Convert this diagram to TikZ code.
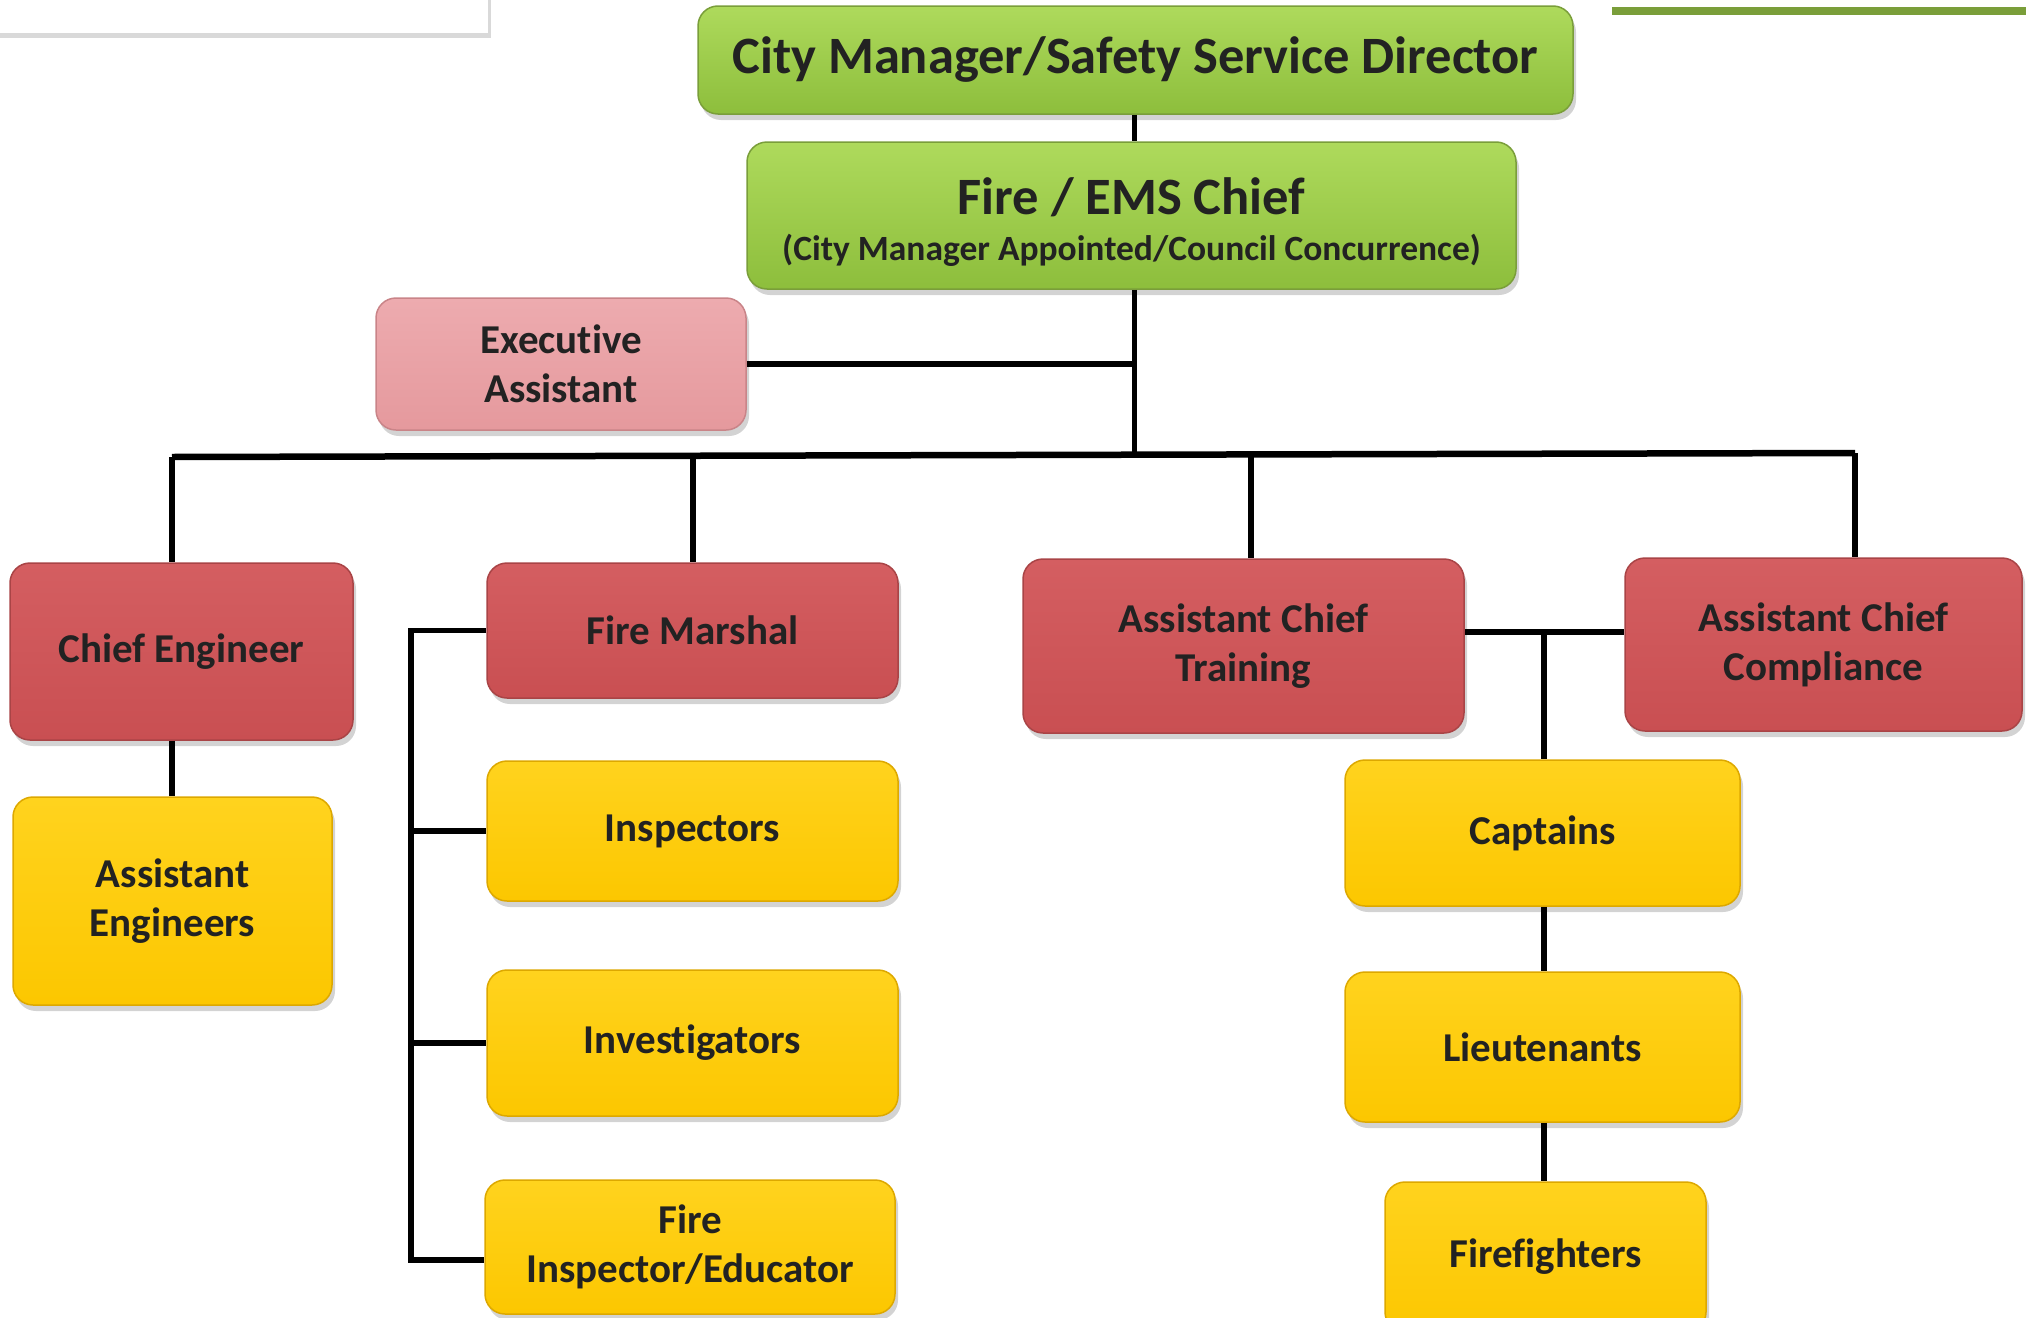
\documentclass[tikz,border=0pt]{standalone}
\usepackage{fontspec}
\setmainfont{Carlito}[Ligatures={NoCommon,NoContextual,NoRare}, Contextuals={NoAlternate}]
\usetikzlibrary{shadows}
\newcommand{\nolig}{\kern0pt{}}
\definecolor{txt}{HTML}{222222}
\definecolor{gTop}{HTML}{AEDA5C}
\definecolor{gBot}{HTML}{8DBE3C}
\definecolor{gLine}{HTML}{7A9E3A}
\definecolor{rTop}{HTML}{D45E61}
\definecolor{rBot}{HTML}{C94F52}
\definecolor{rLine}{HTML}{A94446}
\definecolor{pTop}{HTML}{EDABAF}
\definecolor{pBot}{HTML}{E5999D}
\definecolor{pLine}{HTML}{C98488}
\definecolor{yTop}{HTML}{FFD31E}
\definecolor{yBot}{HTML}{FCC700}
\definecolor{yLine}{HTML}{DDA800}
\definecolor{barGreen}{HTML}{7A9E3A}
\tikzset{
  box/.style={draw, line width=1.5pt, rounded corners=20pt, inner sep=0pt, align=center,
    text=txt, font=\fontsize{41}{49}\selectfont\bfseries,
    drop shadow={shadow xshift=3pt, shadow yshift=-6pt, opacity=.35}},
  gbox/.style={box, top color=gTop, bottom color=gBot, draw=gLine},
  rbox/.style={box, top color=rTop, bottom color=rBot, draw=rLine},
  pbox/.style={box, top color=pTop, bottom color=pBot, draw=pLine},
  ybox/.style={box, top color=yTop, bottom color=yBot, draw=yLine},
  conn/.style={line width=5.5pt, black},
}
\begin{document}
\begin{tikzpicture}[x=1pt, y=-1pt]
\useasboundingbox (0,0) rectangle (2026,1317);
% decorative elements
\fill[white, draw=black!15, drop shadow={shadow xshift=3pt, shadow yshift=-5pt, opacity=.3}]
  (-20,-20) rectangle (488,33);
\fill[barGreen] (1612,7) rectangle (2040,15);

\coordinate (busL) at (172,457);
\coordinate (busR) at (1855,453);
\coordinate (dFM) at (693,456);
\coordinate (dACT) at (1251,454);
\coordinate (trunk) at (1134.5,455);
\coordinate (sp) at (411,0);
\coordinate (ctr) at (1544,632);

% nodes
\node[gbox, minimum width=875pt, minimum height=108pt, font=\fontsize{52.5}{56}\selectfont\bfseries] (cm) at (1135.5,60) {City Manager/Safety Service Director};
\node[gbox, minimum width=769pt, minimum height=147pt] (chief) at (1131.5,215.5)
  {\raisebox{-17pt}[0pt][0pt]{\begin{tabular}{@{}c@{}}{\fontsize{52.5}{56}\selectfont Fire / EMS Chief}\\[-3pt]{\fontsize{35.5}{40}\selectfont (City Manager Appointed/Council Concurrence)}\end{tabular}}};
\node[pbox, minimum width=370pt, minimum height=132pt] (ea) at (561,364) {Execut\nolig ive\\Assistant};

\node[rbox, minimum width=343pt, minimum height=177pt] (ce) at (181.5,651.5) {Chief Engineer};
\node[ybox, minimum width=319pt, minimum height=208pt] (ae) at (172.5,901) {Assistant\\Engineers};

\node[rbox, minimum width=411pt, minimum height=135pt] (fm) at (692.5,630.5) {Fire Marshal};
\node[ybox, minimum width=411pt, minimum height=140pt] (insp) at (692.5,831) {Inspectors};
\node[ybox, minimum width=411pt, minimum height=146pt] (inv) at (692.5,1043) {Invest\nolig igators};
\node[ybox, minimum width=410pt, minimum height=134pt] (fie) at (690,1247) {Fire\\Inspector/Educator};

\node[rbox, minimum width=441pt, minimum height=174pt] (act) at (1243.5,646) {Assistant Chief\\Training};
\node[rbox, minimum width=397pt, minimum height=173pt] (acc) at (1823.5,644.5) {Assistant Chief\\Compliance};

\node[ybox, minimum width=395pt, minimum height=146pt] (cap) at (1542.5,833) {Captains};
\node[ybox, minimum width=395pt, minimum height=150pt] (lt) at (1542.5,1047) {Lieutenants};
\node[ybox, minimum width=321pt, minimum height=150pt] (ff) at (1545.5,1257) {Firef\nolig ighters};

% connectors
\draw[conn] (cm.south -| trunk) -- (chief.north -| trunk);
\draw[conn] (chief.south -| trunk) -- (trunk);
\draw[conn] (ea.east) -- (ea.east -| trunk);
\draw[conn, line width=6.5pt] (busL) -- (busR);
\draw[conn] (busL) -- (busL |- ce.north);
\draw[conn] (dFM) -- (dFM |- fm.north);
\draw[conn] (dACT) -- (dACT |- act.north);
\draw[conn] (busR) -- (busR |- acc.north);
\draw[conn] (ce.south -| busL) -- (ae.north -| busL);
% fire marshal bracket
\draw[conn] (fm.west) -- (fm.west -| sp) -- ([yshift=-13pt]fie.west -| sp) -- ([yshift=-13pt]fie.west);
\draw[conn] (insp.west -| sp) -- (insp.west);
\draw[conn] (inv.west -| sp) -- (inv.west);
% training / compliance
\draw[conn] (act.east |- ctr) -- (acc.west |- ctr);
\draw[conn] (ctr) -- (ctr |- cap.north);
\draw[conn] (cap.south -| ctr) -- (lt.north -| ctr);
\draw[conn] (lt.south -| ctr) -- (ff.north -| ctr);
\end{tikzpicture}
\end{document}
